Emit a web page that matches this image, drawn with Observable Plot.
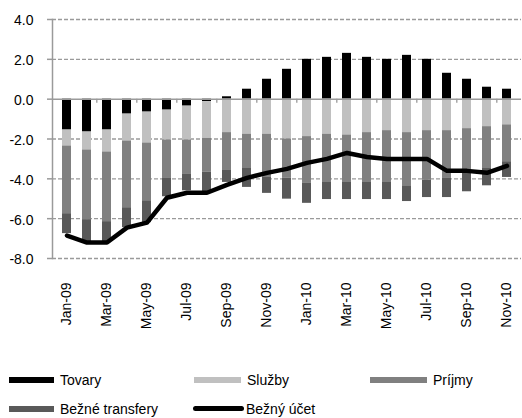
<!DOCTYPE html>
<html>
<head>
<meta charset="utf-8">
<script src="https://cdn.jsdelivr.net/npm/d3@7"></script>
<script src="https://cdn.jsdelivr.net/npm/@observablehq/plot@0.6"></script>
<style>
  body { margin: 0; background: #fff; }
  #wrap { position: relative; width: 522px; height: 418px; overflow: hidden; font-family: "Liberation Sans", Arial, sans-serif; }
  .lg { position: absolute; font-size: 14px; color: #000; line-height: 16px; }
  .sw { position: absolute; height: 6px; }
</style>
</head>
<body>
<div id="wrap"></div>
<script>
const months = ["Jan-09","Feb-09","Mar-09","Apr-09","May-09","Jun-09","Jul-09","Aug-09","Sep-09","Oct-09","Nov-09","Dec-09",
                "Jan-10","Feb-10","Mar-10","Apr-10","May-10","Jun-10","Jul-10","Aug-10","Sep-10","Oct-10","Nov-10"];
const tovary    = [-1.55,-1.65,-1.55,-0.75,-0.65,-0.55,-0.35,-0.12, 0.12, 0.50, 1.00, 1.50, 2.00, 2.10, 2.30, 2.10, 2.00, 2.20, 2.00, 1.30, 1.00, 0.60, 0.50];
const sluzby    = [-0.80,-0.90,-1.10,-1.35,-1.55,-1.50,-1.70,-1.85,-1.68,-1.76,-1.76,-2.00,-1.88,-1.76,-1.80,-1.68,-1.58,-1.68,-1.58,-1.58,-1.48,-1.38,-1.29];
const prijmy    = [-3.40,-3.50,-3.50,-3.35,-2.90,-1.90,-1.70,-1.70,-1.90,-1.72,-2.17,-1.96,-2.35,-2.39,-2.35,-2.47,-2.57,-2.67,-2.49,-2.40,-2.25,-2.10,-1.85];
const transfery = [-1.00,-1.10,-1.05,-1.00,-1.10,-0.95,-0.85,-1.00,-0.60,-0.95,-0.80,-1.06,-1.00,-0.89,-0.89,-0.89,-0.89,-0.79,-0.87,-0.96,-0.92,-0.87,-0.79];
const beznyUcet = [-6.85,-7.20,-7.20,-6.45,-6.20,-4.95,-4.70,-4.70,-4.30,-3.95,-3.70,-3.50,-3.20,-3.00,-2.70,-2.90,-3.00,-3.00,-3.00,-3.60,-3.60,-3.70,-3.35];
const seriesNames = ["Tovary","Služby","Príjmy","Bežné transfery"];
const seriesColors = ["#000000","#c0c0c0","#808080","#595959"];
const lineName = "Bežný účet";
const yTicks = [-8,-6,-4,-2,0,2,4];

const seriesValues = [tovary, sluzby, prijmy, transfery];
const bars = [];
seriesNames.forEach((s, si) => months.forEach((m, i) => bars.push({month: m, series: s, value: seriesValues[si][i]})));
const lineData = months.map((m, i) => ({month: m, value: beznyUcet[i]}));

const W = 522, H = 350, mL = 52, mR = 1, mT = 19, mB = 92;
const step = (W - mL - mR) / months.length;
const tickMonths = months.filter((d, i) => i % 2 === 0 && i > 0);
const labelMonths = months.filter((d, i) => i % 2 === 0);

const chart = Plot.plot({
  width: W, height: H,
  marginLeft: mL, marginRight: mR, marginTop: mT, marginBottom: mB,
  style: {fontFamily: "'Liberation Sans', Arial, sans-serif", background: "#fff"},
  x: {domain: months, paddingInner: 0.55, paddingOuter: 0.275},
  y: {domain: [-8, 4]},
  color: {domain: seriesNames, range: seriesColors},
  marks: [
    Plot.ruleY(yTicks.filter(d => d !== 0), {stroke: "#9a9a9a", strokeWidth: 1.3, strokeDasharray: "4,2"}),
    Plot.barY(bars, {x: "month", y: "value", fill: "series"}),
    Plot.ruleY([0], {stroke: "#9a9a9a", strokeWidth: 1.5}),
    Plot.ruleX(tickMonths, {x: d => d, y1: 0, y2: -0.2, dx: -step / 2, stroke: "#9a9a9a", strokeWidth: 1.3}),
    Plot.frame({anchor: "left", stroke: "#9a9a9a", strokeWidth: 1.5}),
    Plot.line(lineData, {x: "month", y: "value", stroke: "#000", strokeWidth: 4.5, strokeLinejoin: "round", strokeLinecap: "round"}),
    Plot.axisY({ticks: yTicks, tickFormat: null, tickSize: 5, stroke: "#9a9a9a", strokeWidth: 1.5, strokeOpacity: 1, text: null, label: null}),
    Plot.axisY({ticks: yTicks, tickFormat: d => d.toFixed(1), tickSize: 0, tickPadding: 19, fontSize: 14, label: null, fill: "#000", dy: 1.5}),
    Plot.axisX({ticks: labelMonths, tickRotate: -90, tickSize: 0, tickPadding: 24, fontSize: 14, label: null, fill: "#000"})
  ]
});
const wrap = document.getElementById("wrap");
wrap.appendChild(chart);

// legend below the SVG
const legendItems = [
  {name: seriesNames[0], color: seriesColors[0], x: 9,   y: 377, tx: 60},
  {name: seriesNames[1], color: seriesColors[1], x: 194, y: 377, tx: 247},
  {name: seriesNames[2], color: seriesColors[2], x: 370, y: 377, tx: 433},
  {name: seriesNames[3], color: seriesColors[3], x: 9,   y: 406, tx: 60},
];
legendItems.forEach(it => {
  const sw = document.createElement("div");
  sw.className = "sw";
  sw.style.left = it.x + "px"; sw.style.top = it.y + "px";
  sw.style.width = (it.tx - it.x - 6) + "px";
  sw.style.background = it.color;
  wrap.appendChild(sw);
  const t = document.createElement("div");
  t.className = "lg";
  t.style.left = it.tx + "px"; t.style.top = (it.y - 5) + "px";
  t.textContent = it.name;
  wrap.appendChild(t);
});
const lsw = document.createElement("div");
lsw.className = "sw";
lsw.style.left = "193px"; lsw.style.top = "406px"; lsw.style.width = "51px"; lsw.style.height = "5px";
lsw.style.background = "#000"; lsw.style.borderRadius = "3px";
wrap.appendChild(lsw);
const lt = document.createElement("div");
lt.className = "lg"; lt.style.left = "246px"; lt.style.top = "401px"; lt.textContent = lineName;
wrap.appendChild(lt);
chart.style.position = "absolute"; chart.style.left = "0"; chart.style.top = "0";
</script>
</body>
</html>
